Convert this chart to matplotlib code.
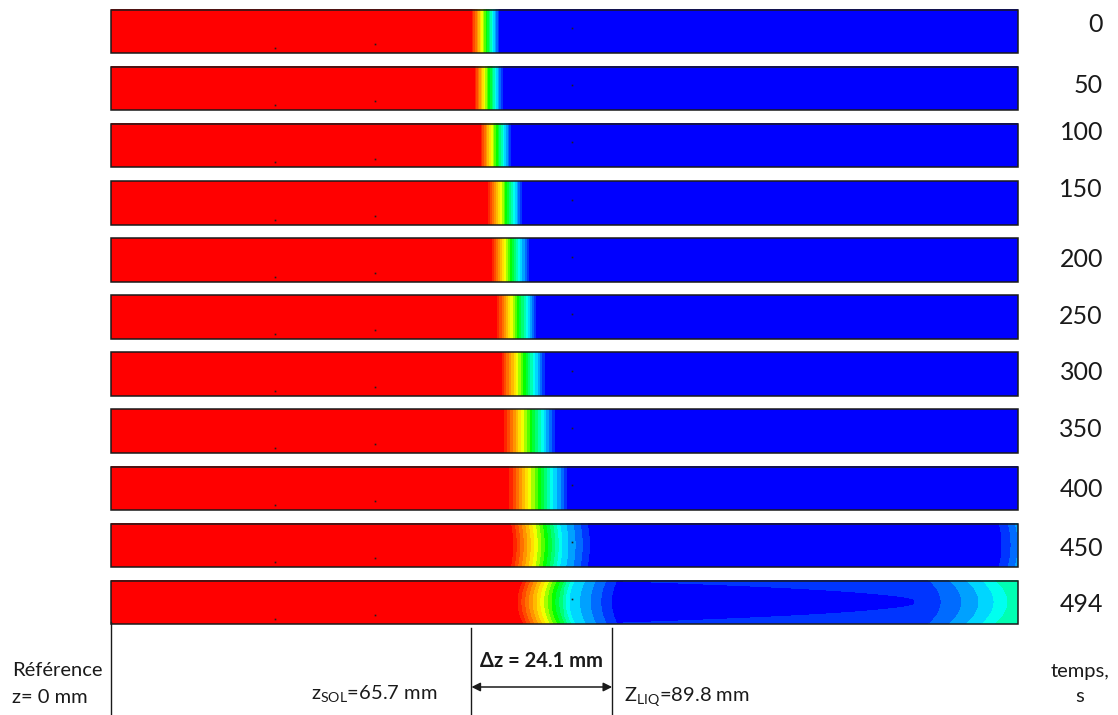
import numpy as np
import matplotlib
matplotlib.use("Agg")
import matplotlib.pyplot as plt
from matplotlib.colors import LinearSegmentedColormap
from matplotlib.patches import Rectangle

plt.rcParams['font.family'] = ['Lato', 'DejaVu Sans']
plt.rcParams['mathtext.fontset'] = 'custom'
plt.rcParams['mathtext.rm'] = 'Lato'

# snapshot times (s), one bar per time
times = [0, 50, 100, 150, 200, 250, 300, 350, 400, 450, 494]

# front (mm from reference): end of red, cyan band, start of blue
z_red_end = [65.6, 66.1, 67.2, 68.6, 69.3, 70.2, 71.0, 71.5, 72.4, 73.1, 73.9]
z_cyan = [69.5, 70.0, 71.5, 73.4, 74.4, 75.8, 77.1, 78.6, 80.4, 82.0, 83.5]
z_blue_start = [70.6, 71.2, 72.7, 74.7, 75.9, 77.3, 78.8, 80.6, 83.1, 87.2, 91.2]
front_curv = [0, 0, 0, 0, 0, 0, 0, 0, 0, -0.4, 1.0]

# warming of the far end, only visible on the last two bars
end_level = [0, 0, 0, 0, 0, 0, 0, 0, 0, 0.15, 0.34]
end_start = [165, 165, 165, 165, 165, 165, 165, 165, 165, 158.1, 134.5]
end_curv = [0, 0, 0, 0, 0, 0, 0, 0, 0, 0.5, 2.2]
# thin warmer layer along the wall (last bar): cold core tip and length, mm
wall_band = [0, 0, 0, 0, 0, 0, 0, 0, 0, 0, 0.075]
core_tip = [165, 165, 165, 165, 165, 165, 165, 165, 165, 165, 145.9]
core_len = [1, 1, 1, 1, 1, 1, 1, 1, 1, 1, 59.0]

bar_length = 165.0  # mm

# small probe marks (mm along bar, relative height -1..1)
probe_z = [29.8, 48.0, 83.9]
probe_r = [0.77, 0.59, -0.15]

# annotated values
z_sol_value = 65.7
z_liq_value = 89.8
dz_value = 24.1

# layout
px_per_mm = 5.495
row_pitch_px = 57.1
half_h = 21.75 / row_pitch_px
label_shift_px = [-7, -3, -13, -13, 0, -1, -2, -2, 1, 3, 2]
fs_small = 14.5
fs_time = 18

# Fluent-like rainbow, 20 bands
cmap = LinearSegmentedColormap.from_list(
    "fluent",
    [(0.0, "#0000ff"), (0.25, "#00ffff"), (0.47, "#00ff00"),
     (0.64, "#ffff00"), (0.82, "#ff8000"), (1.0, "#ff0000")],
    N=20)

fig = plt.figure(figsize=(11.18, 7.15), dpi=100)
ax = fig.add_axes([0, 0, 1, 1])
ax.set_xlim(-111 / px_per_mm, (1118 - 111) / px_per_mm)
ax.set_ylim((715 - 31.5) / row_pitch_px, -31.5 / row_pitch_px)
ax.axis('off')

z = np.linspace(0, bar_length, 910)
r = np.linspace(-1, 1, 44)
Z, R = np.meshgrid(z, r)

for i, t in enumerate(times):
    # red -> blue transition of the front
    zf = Z - front_curv[i] * R ** 2
    v = np.interp(zf, [z_red_end[i], z_cyan[i], z_blue_start[i]],
                  [0.95, 0.25, 0.05], left=1.0, right=0.0)
    # far end warming
    if end_level[i] > 0:
        s = np.clip((Z + end_curv[i] * R ** 2 - end_start[i])
                    / (bar_length - end_start[i]), 0, 1)
        v = np.maximum(v, end_level[i] * s ** 2)
    if wall_band[i] > 0:
        outside = np.clip((Z + core_len[i] * R ** 2 - core_tip[i]) / 1.5, 0, 1)
        v = np.maximum(v, wall_band[i] * outside)
    ax.imshow(v, cmap=cmap, vmin=0, vmax=1, aspect='auto',
              interpolation='nearest',
              extent=(0, bar_length, i + half_h, i - half_h), zorder=1)
    ax.add_patch(Rectangle((0, i - half_h), bar_length, 2 * half_h,
                           fill=False, ec='#1a1a1a', lw=1.1, zorder=3))
    ax.plot(probe_z, [i + pr * half_h for pr in probe_r], 's',
            color='#202020', ms=1.2, mew=0, zorder=2)
    ax.text((1103 - 111) / px_per_mm, i + label_shift_px[i] / row_pitch_px,
            str(t), ha='right', va='center', fontsize=fs_time, color='#1a1a1a')

# bottom annotations
trans = ax.get_xaxis_transform()
z_sol_line = z_red_end[0]
z_liq_line = z_blue_start[-1]
ax.axvline(0, ymin=0, ymax=1 - 622 / 715, color='#1a1a1a', lw=1)
ax.axvline(z_sol_line, ymin=0, ymax=1 - 628 / 715, color='#1a1a1a', lw=1)
ax.axvline(z_liq_line, ymin=0, ymax=1 - 628 / 715, color='#1a1a1a', lw=1)

ax.annotate('', xy=(z_liq_line, 1 - 687 / 715), xytext=(z_sol_line, 1 - 687 / 715),
            xycoords=trans, textcoords=trans,
            arrowprops=dict(arrowstyle='<|-|>', color='#1a1a1a', lw=1.1,
                            shrinkA=0, shrinkB=0, mutation_scale=13))

ax.text((z_sol_line + z_liq_line) / 2, 1 - 667 / 715,
        f"Δz = {dz_value} mm", transform=trans, ha='center', va='baseline',
        fontsize=fs_small, fontweight='bold', color='#1a1a1a')
ax.text(z_sol_line - 97 / px_per_mm, 1 - 700 / 715,
        r"z$_{\mathregular{SOL}}$" + f"={z_sol_value} mm", transform=trans,
        ha='center', va='baseline', fontsize=fs_small, color='#1a1a1a')
ax.text(z_liq_line + 12 / px_per_mm, 1 - 702 / 715,
        r"Z$_{\mathregular{LIQ}}$" + f"={z_liq_value} mm", transform=trans,
        ha='left', va='baseline', fontsize=fs_small, color='#1a1a1a')

ax.text(-99 / px_per_mm, 1 - 676 / 715, "Référence", transform=trans,
        ha='left', va='baseline', fontsize=fs_small, color='#1a1a1a')
ax.text(-99 / px_per_mm, 1 - 703 / 715, "z= 0 mm", transform=trans,
        ha='left', va='baseline', fontsize=fs_small, color='#1a1a1a')
ax.text((1080 - 111) / px_per_mm, 1 - 677 / 715, "temps,", transform=trans,
        ha='center', va='baseline', fontsize=fs_small, color='#1a1a1a')
ax.text((1080 - 111) / px_per_mm, 1 - 702 / 715, "s", transform=trans,
        ha='center', va='baseline', fontsize=fs_small, color='#1a1a1a')

fig.savefig("out.png", dpi=100)
